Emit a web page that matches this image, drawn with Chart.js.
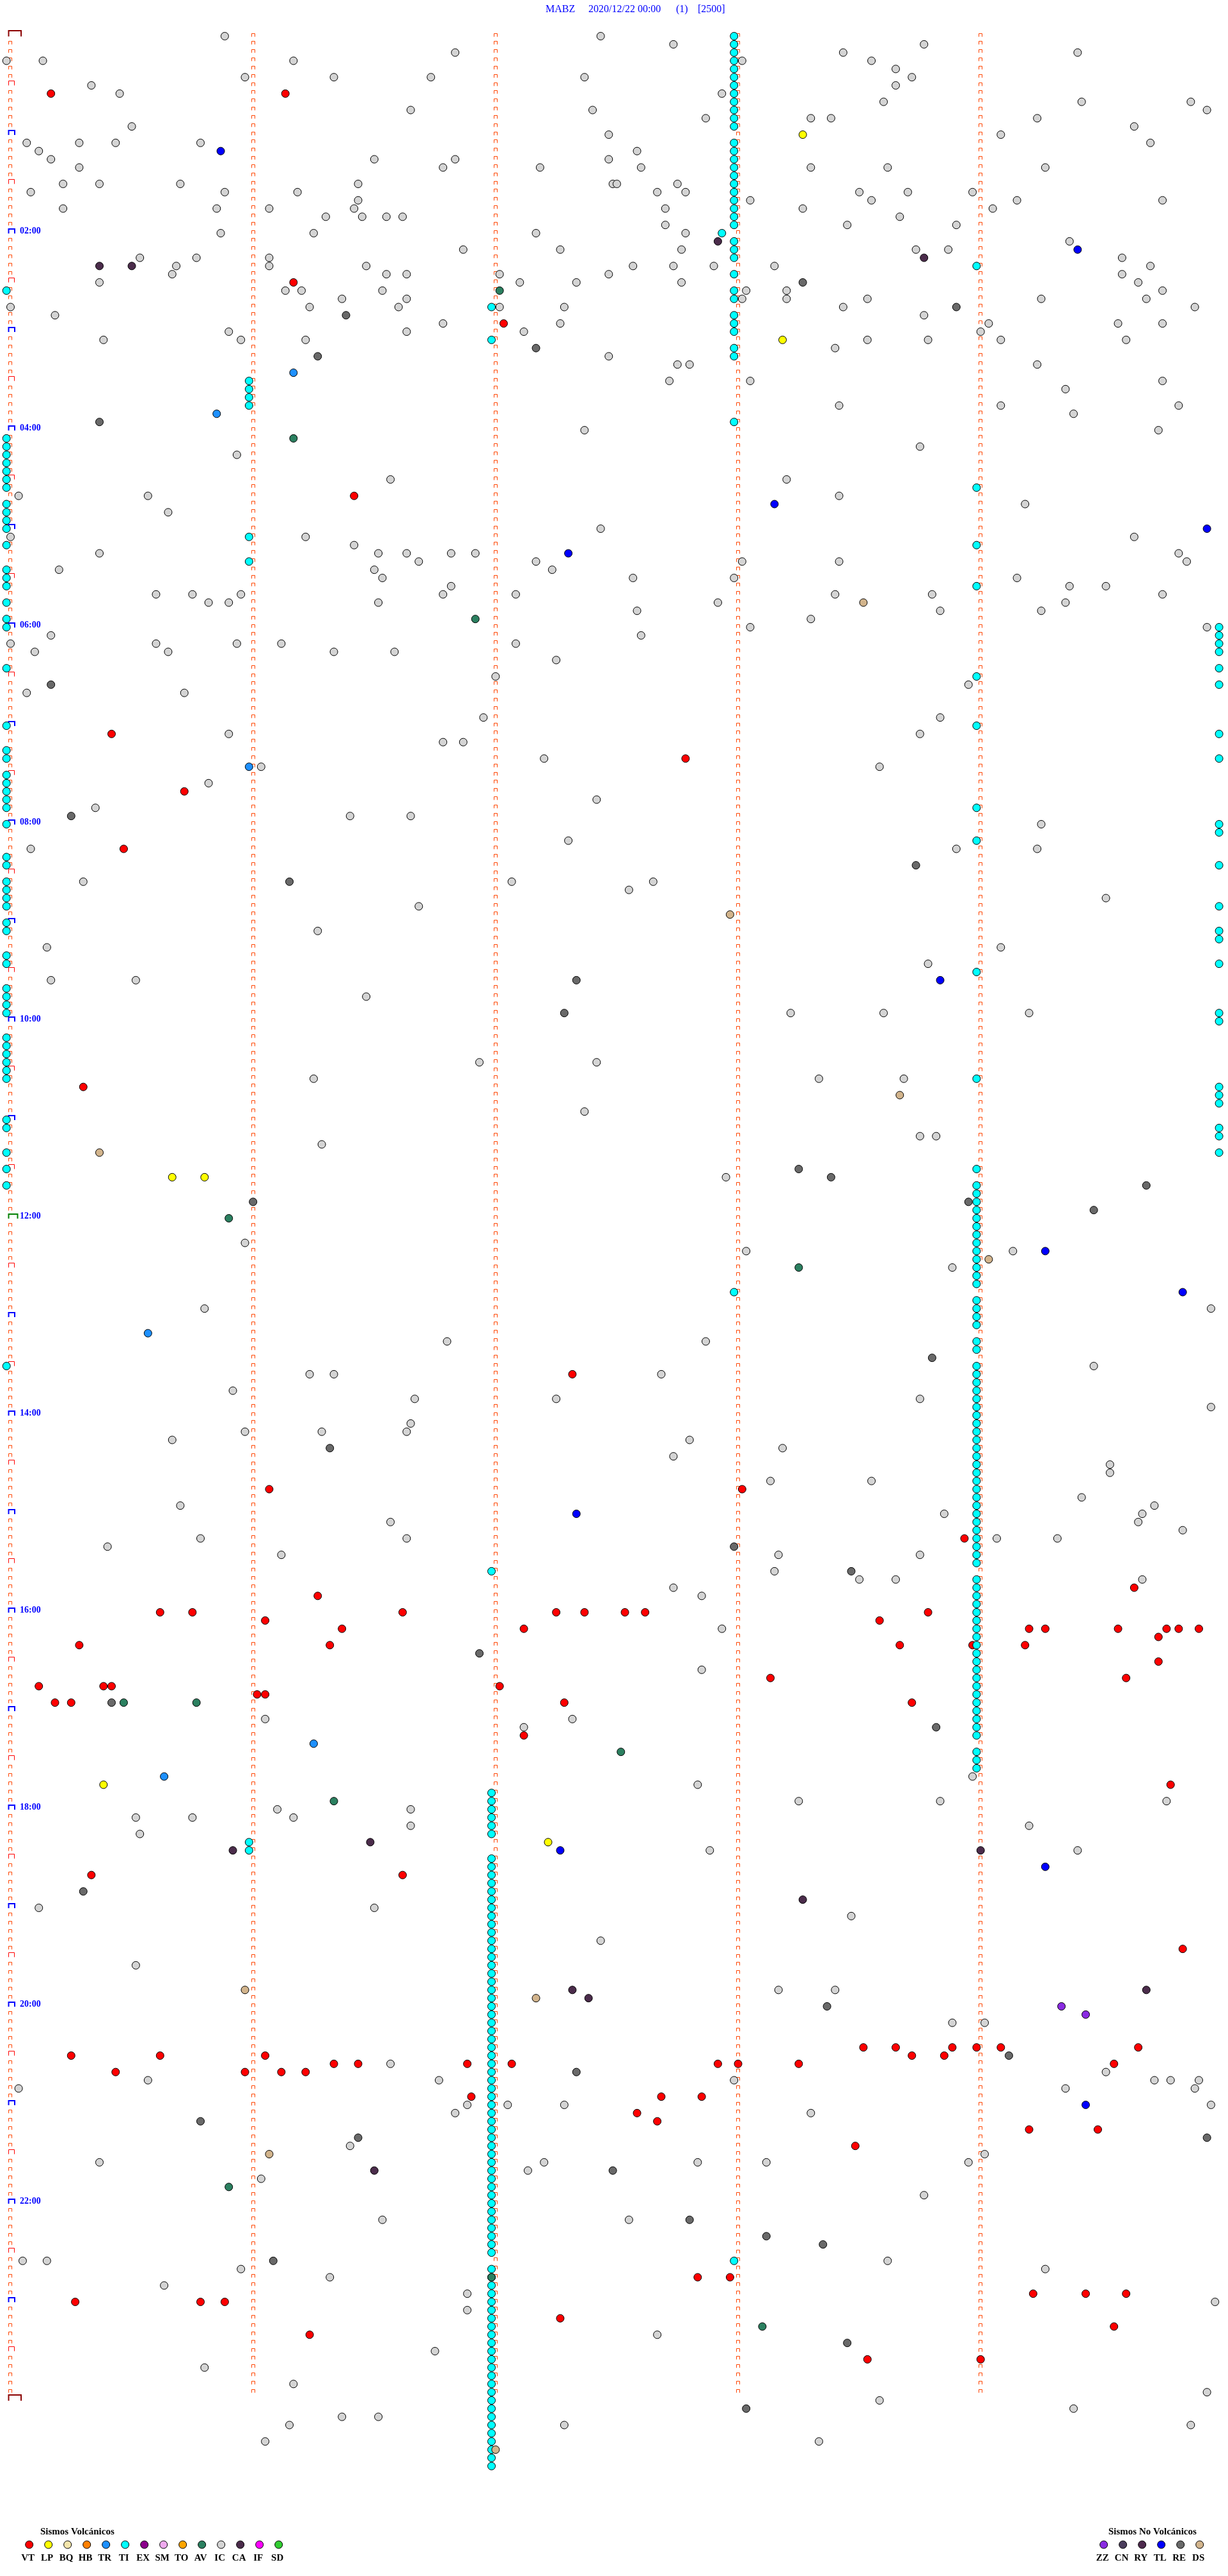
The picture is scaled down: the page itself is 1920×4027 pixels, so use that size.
<!DOCTYPE html>
<html>
<head>
<meta charset="utf-8">
<script src="https://cdn.jsdelivr.net/npm/chart.js@4.4.0/dist/chart.umd.min.js"></script>
<style>
html,body{margin:0;padding:0;background:#ffffff;}
canvas{display:block;}
</style>
</head>
<body>
<canvas id="c" width="1920" height="4027"></canvas>
<script>
// ---------- texts ----------
const titleParts = ['MABZ', '2020/12/22 00:00', '(1)', '[2500]'];
const hourLabels = ['02:00','04:00','06:00','08:00','10:00','12:00','14:00','16:00','18:00','20:00','22:00'];
const hourSlots  = [24, 48, 72, 96, 120, 144, 168, 192, 216, 240, 264];
const volcTitle = 'Sismos Volcánicos';
const nonVolcTitle = 'Sismos No Volcánicos';
const volcTypes  = ['VT','LP','BQ','HB','TR','TI','EX','SM','TO','AV','IC','CA','IF','SD'];
const volcColors = ['#ff0000','#ffff00','#f3e5ab','#ff8000','#1e90ff','#00ffff','#8b008b','#eeaaee','#ffa500','#2b8060','#d4d4d4','#4b2c4b','#ff00ff','#32cd32'];
const nonVolcTypes  = ['ZZ','CN','RY','TL','RE','DS'];
const nonVolcColors = ['#8a2be2','#4a3d5c','#4d2a4d','#0000ff','#696969','#d2b48c'];

// ---------- events: [5-minute slot of the day, seconds into the slot] ----------
const VT = [[7,10],[7,68],[30,70],[35,122],[56,85],[85,25],[92,43],[88,167],
 [99,28],[128,18],[163,139],[177,64],[190,76],[192,37],[192,45],[192,97],[192,135],[192,142],[193,63],[194,82],[194,127],[196,17],[196,79],
 [177,181],[183,236],[189,278],[192,152],[192,157],[192,227],[193,215],[194,252],[194,256],[194,274],[194,286],[194,289],[194,294],[195,284],[196,220],[196,238],[196,251],[198,284],
 [201,7],[201,23],[201,25],[201,121],[202,61],[202,63],[203,11],[203,15],[203,137],[207,127],[224,20],[224,97],[246,15],[246,37],[246,63],[247,80],[247,86],[247,113],[247,124],[248,26],[248,58],[248,67],[248,73],[251,114],[276,16],[276,47],[276,53],[278,136],[280,74],
 [200,188],[200,276],[203,223],[213,287],[233,290],[245,211],[245,219],[245,233],[245,239],[245,245],[245,279],[246,223],[246,231],[247,175],[247,180],[247,195],[247,273],[251,161],[251,171],[253,155],[254,160],[255,252],[255,269],[257,209],[273,170],[273,178],[275,253],[275,266],[275,276],[279,273],[283,212],[283,240]];
const LP = [[12,196],[37,191],[139,40],[139,48],[213,23],[220,133]];
const BQ = [];
const HB = [];
const TR = [[41,70],[46,51],[89,59],[158,34],[208,75],[212,38]];
const TI = [
 [31,-1],[49,-1],[50,-1],[51,-1],[52,-1],[53,-1],[54,-1],[55,-1],[57,-1],[58,-1],[59,-1],[60,-1],[62,-1],[65,-1],[66,-1],[67,-1],[69,-1],[71,-1],[72,-1],[77,-1],[84,-1],[87,-1],[88,-1],[90,-1],[91,-1],[92,-1],[93,-1],[94,-1],[96,-1],
 [100,-1],[101,-1],[103,-1],[104,-1],[105,-1],[106,-1],[108,-1],[109,-1],[112,-1],[113,-1],[116,-1],[117,-1],[118,-1],[119,-1],[122,-1],[123,-1],[124,-1],[125,-1],[126,-1],[127,-1],[132,-1],[133,-1],[136,-1],[138,-1],[140,-1],[162,-1],
 [42,59],[43,59],[44,59],[45,59],[61,59],[64,59],[220,59],[221,59],
 [33,119],[37,119],[187,119],
 [214,119],[215,119],[216,119],[217,119],[218,119],[219,119],
 [222,119],[223,119],[224,119],[225,119],[226,119],[227,119],[228,119],[229,119],[230,119],[231,119],[232,119],[233,119],[234,119],[235,119],[236,119],[237,119],[238,119],[239,119],[240,119],[241,119],[242,119],[243,119],[244,119],[245,119],[246,119],[247,119],[248,119],[249,119],[250,119],[251,119],[252,119],[253,119],[254,119],[255,119],[256,119],[257,119],[258,119],[259,119],[260,119],[261,119],[262,119],[263,119],[264,119],[265,119],[266,119],[267,119],[268,119],[269,119],[270,119],
 [272,119],[273,119],[274,119],[275,119],[276,119],[277,119],[278,119],[279,119],[280,119],[281,119],[282,119],[283,119],[284,119],[285,119],[286,119],[287,119],[288,119],[289,119],[290,119],[291,119],[292,119],[293,119],[294,119],[295,119],[296,119],
 [0,179],[1,179],[2,179],[3,179],[4,179],[5,179],[6,179],[7,179],[8,179],[9,179],[10,179],[11,179],
 [13,179],[14,179],[15,179],[16,179],[17,179],[18,179],[19,179],[20,179],[21,179],[22,179],[23,179],
 [24,176],[25,179],[26,179],[27,179],[29,179],[31,179],[32,179],[34,179],[35,179],[36,179],[38,179],[39,179],[47,179],[153,179],[271,179],
 [28,239],[55,239],[62,239],[67,239],[78,239],[84,239],[94,239],[98,239],[114,239],[127,239],[138,239],
 [140,239],[141,239],[142,239],[143,239],[144,239],[145,239],[146,239],[147,239],[148,239],[149,239],[150,239],[151,239],[152,239],
 [154,239],[155,239],[156,239],[157,239],[159,239],[160,239],
 [162,239],[163,239],[164,239],[165,239],[166,239],[167,239],[168,239],[169,239],[170,239],[171,239],[172,239],[173,239],[174,239],[175,239],[176,239],[177,239],[178,239],[179,239],[180,239],[181,239],[182,239],[183,239],[184,239],[185,239],[186,239],
 [188,239],[189,239],[190,239],[191,239],[192,239],[193,239],[194,239],[195,239],[196,239],[197,239],[198,239],[199,239],[200,239],[201,239],[202,239],[203,239],[204,239],[205,239],[206,239],[207,239],[209,239],[210,239],[211,239],
 [72,299],[73,299],[74,299],[75,299],[77,299],[79,299],[85,299],[88,299],[96,299],[97,299],[101,299],[106,299],[109,299],[110,299],[113,299],[119,299],[120,299],[128,299],[129,299],[130,299],[133,299],[134,299],[136,299]];
const EX = [];
const SM = [];
const TO = [];
const AV = [[31,121],[49,70],[71,115],[144,54],[150,195],[203,28],[203,46],[215,80],[262,54],[273,119],[209,151],[279,186]];
const IC = [
 [0,53],[0,146],[3,-1],[3,8],[3,70],[2,110],[5,58],[5,80],[5,104],[5,142],[6,20],[7,27],[9,99],[9,144],[11,30],[12,148],[13,4],[13,17],[13,26],[13,47],[14,7],[15,10],[15,90],[15,110],[15,148],[16,17],[16,107],[16,131],[18,13],[18,22],[18,42],[18,86],[18,149],[19,5],[19,53],[19,71],[20,86],[21,13],[21,51],[21,64],[21,85],[22,78],[22,87],[22,93],[22,97],[24,52],[24,75],[24,130],[26,112],[26,136],[27,32],[27,46],[27,64],[28,41],[28,64],[28,88],[29,40],[29,93],[29,98],[29,121],[29,148],[30,22],[30,126],[30,140],[31,68],[31,72],[31,92],[32,82],[32,98],[33,0],[33,74],[33,96],[33,121],[33,137],[34,11],[35,107],[35,136],[36,54],[36,98],[36,127],[37,23],[37,57],[37,73],[39,148],[48,142],[51,56],[54,94],[56,2],[56,34],[58,39],[61,0],[60,146],[61,73],[62,85],[63,22],[63,91],[63,98],[63,109],[63,115],[64,101],[64,130],[65,12],[65,90],[65,134],[66,92],[67,109],[68,36],[68,45],[68,57],[68,107],[68,125],[69,49],[69,54],[69,91],[73,10],[74,0],[74,36],[74,56],[74,67],[74,125],[75,6],[75,39],[75,80],[75,95],[76,135],[78,120],[80,4],[80,43],[83,117],[85,54],[86,107],[86,112],[88,132],[89,62],[91,49],[94,21],[93,145],[95,84],[95,99],[98,138],
 [1,164],[1,226],[2,206],[2,264],[3,181],[3,213],[4,219],[5,223],[6,219],[7,176],[8,216],[8,265],[8,292],[9,296],[10,172],[10,198],[10,203],[10,254],[11,278],[12,245],[13,282],[14,155],[16,156],[16,198],[16,217],[16,256],[18,150],[18,165],[19,160],[19,167],[19,210],[19,222],[19,238],[20,183],[20,213],[20,249],[20,285],[21,162],[21,196],[21,243],[23,162],[23,207],[22,220],[23,234],[24,167],[26,166],[26,224],[26,232],[25,262],[27,275],[28,154],[28,164],[28,174],[28,189],[28,282],[30,166],[29,275],[30,279],[31,182],[31,192],[31,285],[32,181],[32,192],[32,212],[32,255],[32,281],[33,206],[33,293],[34,226],[35,242],[35,274],[35,285],[36,240],[37,212],[37,227],[37,245],[37,276],[38,204],[40,165],[40,168],[40,254],[42,163],[42,183],[42,285],[43,261],[45,205],[45,245],[45,289],[46,263],[48,284],[50,225],[54,192],[56,205],[57,251],[61,278],[63,289],[64,291],[64,181],[64,205],[66,154],[66,179],[66,249],[67,262],[67,271],[68,204],[68,228],[68,285],[69,175],[69,261],[70,155],[70,230],[70,255],[71,198],[72,183],[72,296],[73,156],[79,237],[83,230],[85,225],[89,215],[96,255],
 [99,5],[103,18],[103,124],[106,101],[109,76],[111,9],[115,10],[115,31],[117,88],[125,116],[125,145],[127,75],[131,142],[135,77],[147,58],[155,48],[159,108],[163,74],[163,80],[165,55],[166,100],[166,135],[169,99],[171,40],[170,58],[170,77],[170,98],[179,42],[181,94],[183,47],[183,98],[184,24],[185,67],
 [99,234],[99,254],[104,153],[103,159],[105,271],[111,245],[113,227],[119,193],[119,216],[119,252],[127,200],[127,221],[134,225],[134,229],[139,177],[148,182],[148,248],[150,233],[155,297],[159,172],[162,268],[163,161],[166,225],[167,297],[171,168],[173,164],[172,191],[174,272],[175,272],[176,188],[176,213],[178,265],[179,283],[180,231],[180,280],[181,279],[182,290],[183,244],[183,259],[185,190],[185,225],[187,189],[188,210],[188,219],[188,280],[189,164],[190,171],[194,176],
 [205,63],[205,139],[206,127],[217,31],[217,45],[216,66],[217,70],[216,99],[218,99],[219,32],[228,7],[228,90],[232,146],[235,31],[247,94],[249,34],[249,106],[250,2],[252,113],[252,123],[252,137],[253,110],[257,84],[259,22],[260,128],[259,132],[261,62],[266,92],[271,3],[271,9],[272,57],[273,79],[274,38],[275,113],[277,113],[282,105],[284,48],[286,70],[290,82],[290,91],[291,69],[291,137],[293,63],
 [199,171],[212,238],[213,170],[215,195],[215,230],[215,286],[218,252],[221,173],[221,264],[229,208],[238,190],[238,204],[242,233],[242,241],[248,271],[249,179],[249,283],[249,287],[249,294],[250,261],[250,293],[252,297],[253,198],[258,241],[259,170],[259,187],[259,237],[263,226],[266,153],[271,217],[272,256],[276,298],[280,160],[288,215],[289,263],[287,296],[291,292],[293,200]];
const CA = [[28,22],[28,30],[25,175],[27,226],[221,55],[220,89],[238,139],[239,143],[260,90],[221,240],[227,196],[238,281]];
const IF = [];
const SD = [];
const ZZ = [[240,260],[241,266]];
const CN = [];
const RY = [];
const TL = [[14,52],[63,138],[26,264],[57,189],[60,296],[180,140],[115,230],[148,256],[153,290],[221,136],[223,256],[252,266]];
const RE = [[34,83],[38,130],[39,76],[47,22],[79,10],[95,15],[30,196],[33,234],
 [103,69],[115,140],[119,137],[142,60],[172,79],[197,116],
 [101,224],[138,195],[139,203],[140,281],[142,237],[143,268],[161,228],[184,179],[187,208],
 [203,25],[226,18],[248,140],[254,47],[256,86],[260,149],[271,65],
 [206,229],[240,202],[246,247],[256,296],[266,168],[268,187],[269,201],[281,207],[289,182]];
const DS = [[69,211],[136,22],[107,178],[129,220],[149,242],[238,58],[239,130],[258,64],[294,120]];

const events = {VT,LP,BQ,HB,TR,TI,EX,SM,TO,AV,IC,CA,IF,SD,ZZ,CN,RY,TL,RE,DS};
const slotsPerDay = 288;      // 24 h of 5-minute rows
const lastSlotShown = 297;    // events spill past 24:00
const secondsPerSlot = 300;
const minuteMarks = [0, 60, 120, 180, 240];

const allTypes = volcTypes.concat(nonVolcTypes);
const allColors = volcColors.concat(nonVolcColors);

const datasets = allTypes.map((t, i) => ({
  label: t,
  data: events[t].map(([slot, sec]) => ({x: sec, y: slot})),
  backgroundColor: allColors[i],
  borderColor: '#000000',
  borderWidth: 1,
  pointRadius: 6,
  pointHoverRadius: 6,
  pointStyle: 'circle',
  clip: false,
  order: allTypes.length - i
}));

function bracket(ctx, x0, x1, yTop, yBot, color, lw) {
  ctx.beginPath();
  ctx.strokeStyle = color;
  ctx.lineWidth = lw;
  ctx.moveTo(x0, yBot);
  ctx.lineTo(x0, yTop);
  ctx.lineTo(x1, yTop);
  ctx.lineTo(x1, yBot);
  ctx.stroke();
}

const markPlugin = {
  id: 'rowMarks',
  beforeDatasetsDraw(chart) {
    const ctx = chart.ctx;
    const xs = chart.scales.x, ys = chart.scales.y;
    ctx.save();
    for (let slot = 0; slot <= slotsPerDay; slot++) {
      const yc = ys.getPixelForValue(slot);
      minuteMarks.forEach((m) => {
        const xc = xs.getPixelForValue(m);
        const xl = Math.round(xc - 3);
        if (m === 0) {
          if (slot === 0 || slot === slotsPerDay) {
            bracket(ctx, xl + 0.5, xl + 20, Math.round(yc - 9), Math.round(yc), '#8b0000', 2);
          } else if (slot % 12 === 0) {
            const col = slot === 144 ? '#008000' : '#0000ff';
            const w = slot === 144 ? 14 : 9.5;
            bracket(ctx, xl + 0.5, xl + 0.5 + w, Math.round(yc - 7), Math.round(yc + 0.5), col, 2);
          } else if (slot % 6 === 0) {
            bracket(ctx, xl + 0.5, xl + 9.5, Math.round(yc - 8) + 0.5, Math.round(yc) - 0.5, '#ff0000', 1);
          } else {
            bracket(ctx, xl + 0.5, xl + 5.5, Math.round(yc - 5) + 0.5, Math.round(yc) + 0.5, '#ff4500', 1);
          }
        } else if (slot < slotsPerDay) {
          bracket(ctx, xl + 0.5, xl + 5.5, Math.round(yc - 5) + 0.5, Math.round(yc) + 0.5, '#ff4500', 1);
        }
      });
    }
    ctx.restore();
  },
  afterDraw(chart) {
    const ctx = chart.ctx;
    const ys = chart.scales.y;
    ctx.save();
    // hour labels
    ctx.fillStyle = '#0000ff';
    ctx.font = 'bold 14px "Liberation Serif", "Times New Roman", serif';
    ctx.textAlign = 'left';
    ctx.textBaseline = 'alphabetic';
    hourLabels.forEach((lab, i) => {
      ctx.fillText(lab, 31, Math.round(ys.getPixelForValue(hourSlots[i])));
    });
    // title
    ctx.font = '16px "Liberation Serif", "Times New Roman", serif';
    const titleX = [853, 920, 1057, 1091];
    titleParts.forEach((t, i) => ctx.fillText(t, titleX[i], 19));
    // legends
    ctx.fillStyle = '#000000';
    ctx.font = 'bold 15px "Liberation Serif", "Times New Roman", serif';
    ctx.fillText(volcTitle, 63, 3962);
    ctx.fillText(nonVolcTitle, 1733, 3962);
    const drawItems = (types, colors, x0) => {
      types.forEach((t, i) => {
        const cx = x0 + 30 * i;
        ctx.beginPath();
        ctx.arc(cx, 3978, 6, 0, Math.PI * 2);
        ctx.fillStyle = colors[i];
        ctx.fill();
        ctx.lineWidth = 1;
        ctx.strokeStyle = '#000000';
        ctx.stroke();
        ctx.fillStyle = '#000000';
        ctx.textAlign = 'center';
        ctx.fillText(t, cx - 2, 4003);
      });
    };
    drawItems(volcTypes, volcColors, 45.7);
    drawItems(nonVolcTypes, nonVolcColors, 1725.7);
    ctx.restore();
  }
};

const rowPx = 77 / 6;          // height of one 5-minute row
const secPx = 380 / 60;        // width of one second
const xMin = -1.5;
new Chart(document.getElementById('c'), {
  type: 'scatter',
  data: { datasets },
  options: {
    responsive: false,
    animation: false,
    devicePixelRatio: 1,
    layout: { padding: {
      left: 12.4 + xMin * secPx,
      right: 1920 - 12.4 - secondsPerSlot * secPx,
      top: 56.5,
      bottom: 4027 - 56.5 - lastSlotShown * rowPx } },
    scales: {
      x: { type: 'linear', min: xMin, max: secondsPerSlot, display: false },
      y: { type: 'linear', min: 0, max: lastSlotShown, reverse: true, display: false }
    },
    plugins: { legend: { display: false }, tooltip: { enabled: false } },
    events: []
  },
  plugins: [markPlugin]
});
</script>
</body>
</html>
